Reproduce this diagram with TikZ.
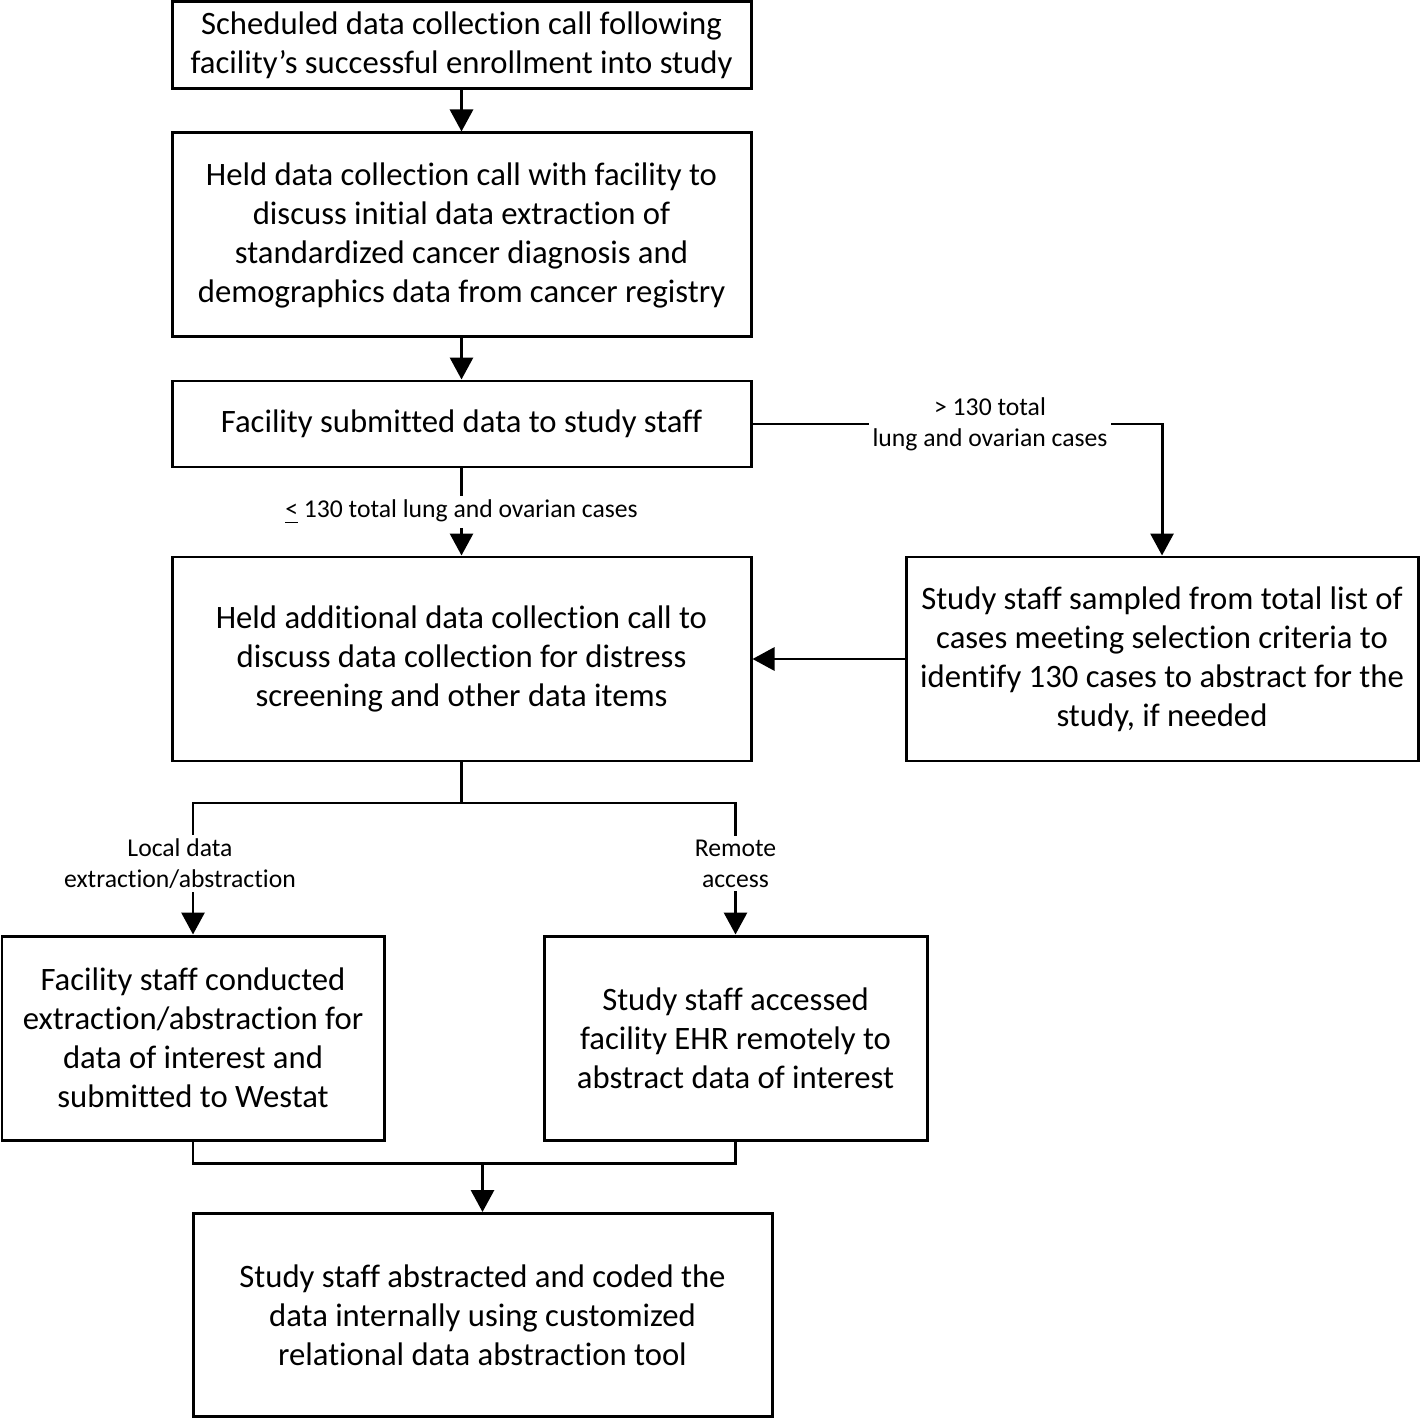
\documentclass[tikz,border=0pt]{standalone}
\usepackage{fontspec}
\setmainfont{Carlito}[Ligatures={NoCommon,NoContextual}]
\usetikzlibrary{arrows.meta}
\tikzset{
  box/.style={draw, line width=0.85pt, align=center, inner sep=0pt, font=\fontsize{9.3}{11.1}\selectfont},
  lbl/.style={fill=white, align=center, inner sep=1pt, font=\fontsize{7.3}{8.8}\selectfont},
  conn/.style={line width=0.85pt},
  arr/.style={conn, -{Triangle[length=2.2mm,width=2.3mm]}},
}
\begin{document}
\begin{tikzpicture}[x=0.1mm, y=-0.1mm]
  \useasboundingbox (0,0) rectangle (1420,1420);
  % main column
  \node[box, minimum width=57.9mm, minimum height=8.7mm] (call) at (461.5,45.5)
    {Scheduled data collection call following\\facility’s successful enrollment into study};
  \node[box, minimum width=57.9mm, minimum height=20.4mm] (held) at (461.5,235)
    {Held data collection call with facility to\\discuss initial data extraction of\\standardized cancer diagnosis and\\demographics data from cancer registry};
  \node[box, minimum width=57.9mm, minimum height=8.6mm] (submit) at (461.5,424)
    {Facility submitted data to study staff};
  \node[box, minimum width=57.9mm, minimum height=20.4mm] (addl) at (461.5,659)
    {Held additional data collection call to\\discuss data collection for distress\\screening and other data items};
  % sampling branch
  \node[box, minimum width=51.2mm, minimum height=20.4mm] (sample) at (1162,659)
    {Study staff sampled from total list of\\cases meeting selection criteria to\\identify 130 cases to abstract for the\\study, if needed};
  % two ways to collect
  \node[box, minimum width=38.2mm, minimum height=20.4mm] (local) at (193,1038)
    {Facility staff conducted\\extraction/abstraction for\\data of interest and\\submitted to Westat};
  \node[box, minimum width=38.3mm, minimum height=20.4mm] (remote) at (735.5,1038)
    {Study staff accessed\\facility EHR remotely to\\abstract data of interest};
  \node[box, minimum width=57.9mm, minimum height=20.3mm] (final) at (482.5,1315)
    {Study staff abstracted and coded the\\data internally using customized\\relational data abstraction tool};

  \coordinate (split) at (461.5,803);
  \coordinate (merge) at (482.5,1163);

  % connectors
  \draw[arr] (call) -- (held);
  \draw[arr] (held) -- (submit);
  \draw[arr] (submit) -- node[lbl] {\underline{<} 130 total lung and ovarian cases} (addl);
  \draw[arr] (submit.east) -| node[lbl, pos=0.29] {> 130 total\\lung and ovarian cases} (sample.north);
  \draw[arr] (sample) -- (addl);
  \draw[conn] (addl) -- (split);
  \draw[arr] (split) -| node[lbl, pos=0.73, xshift=-1.3mm] {Local data\\extraction/abstraction} (local);
  \draw[arr] (split) -| node[lbl, pos=0.73] {Remote\\access} (remote);
  \draw[conn] (local) |- (merge) -| (remote);
  \draw[arr] (merge) -- (final);
\end{tikzpicture}
\end{document}
